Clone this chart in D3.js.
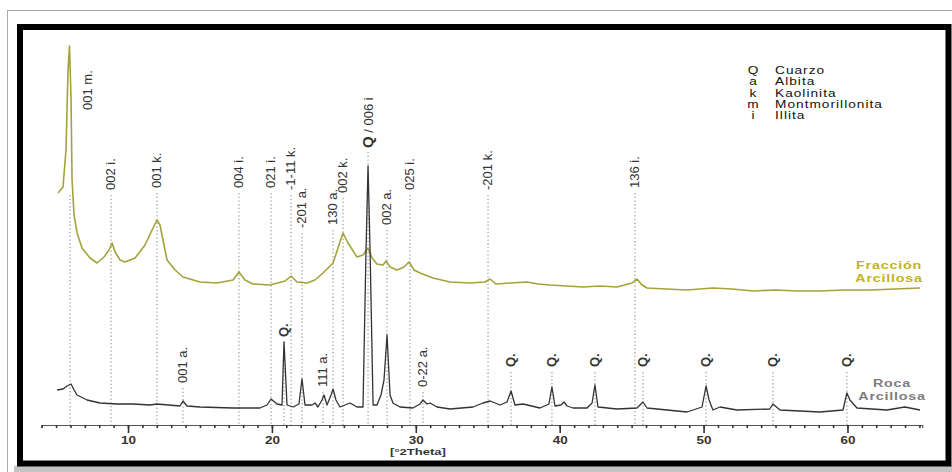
<!DOCTYPE html>
<html><head><meta charset="utf-8">
<script src="https://cdn.jsdelivr.net/npm/d3@7"></script>
<style>body{margin:0;background:#fff} svg{display:block} text{font-family:"Liberation Sans",Arial,sans-serif}</style>
</head><body><svg id="c" width="952" height="472"></svg>
<script>
// ---- DATA ----
// Fracción Arcillosa (°2θ, intensity in arbitrary units)
const fracTheta = [5.14,5.48,5.69,5.83,5.93,6.04,6.11,6.25,6.46,6.80,7.36,7.85,8.33,8.68,8.89,9.10,9.44,9.79,10.49,11.18,11.67,12.01,12.22,12.50,12.71,13.27,13.82,15.00,16.18,17.30,17.71,18.13,18.69,19.87,20.91,21.33,21.74,22.44,22.99,23.55,24.25,24.66,24.94,25.29,25.91,26.33,26.68,26.96,27.30,27.72,27.93,28.21,28.69,29.18,29.53,29.88,30.29,31.19,32.38,33.77,34.81,35.16,35.57,36.6,37.73,38.5,39.33,40.5,41.62,42.8,43.98,45.03,45.37,45.72,46.07,47.4,48.85,50.65,52.0,53.43,55.0,56.5,58.09,59.8,61.56,63.3,65.04];
const fracI = [233,239,276,356,380,326,246,211,193,178,168,163,169,176,183,174,166,164,168,181,196,206,201,181,166,156,149,144,143,146,154,146,142,141,145,150,144,143,146,153,163,181,193,183,169,171,178,168,162,161,165,159,156,159,164,156,153,148,144,143,144,147,142,143,144,142,141,140,139,140,139,143,147,141,138,137,136,138,137,135,136,135,135,136,136,137,138];
// Roca Arcillosa
const rocaTheta = [5.07,5.48,5.76,6.04,6.25,6.46,7.15,8.05,9.24,10.35,11.53,12.01,13.61,13.82,14.10,15.00,17.30,19.17,19.66,19.94,20.35,20.70,20.84,21.05,21.47,21.88,22.09,22.30,22.79,23.00,23.20,23.48,23.62,23.83,24.11,24.25,24.45,24.73,25.43,25.91,26.33,26.54,26.68,26.82,27.03,27.30,27.58,27.79,28.00,28.21,28.41,28.90,29.80,30.29,30.50,30.78,30.99,31.47,32.38,33.98,34.67,35.16,35.85,36.34,36.62,36.89,37.45,38.63,39.25,39.46,39.67,40.09,40.30,40.51,40.93,41.90,42.25,42.45,42.66,43.98,45.37,45.79,46.07,48.85,49.89,50.17,50.38,50.65,51.14,52.32,54.60,54.82,55.31,58.09,59.69,59.96,60.17,60.66,62.74,63.99,65.04];
const rocaI = [36,37,40,42,36,31,26,23,22,22,21,22,20,25,20,19,18,18,21,27,22,21,84,21,19,22,47,21,21,23,19,26,31,21,31,37,26,19,23,19,19,176,260,176,21,21,31,46,91,31,23,19,18,22,26,22,23,19,17,19,23,25,21,24,35,21,22,18,22,39,20,21,24,20,18,18,23,41,19,17,18,24,18,14,19,40,26,16,19,16,17,22,16,14,16,33,26,18,16,19,16];
// x axis
const xDomain = [4, 65.2];
const minorTicks = d3.range(4, 66, 1);
const majorTicks = [10, 20, 30, 40, 50, 60];
// peak labels: text, 2θ, intensity level of text foot
const clayLabels = [
  {t:"002 i.", th:8.82, lv:236},
  {t:"001 k.", th:12.01, lv:238},
  {t:"004 i.", th:17.71, lv:238},
  {t:"021 i.", th:19.94, lv:238},
  {t:"-1-11 k.", th:21.33, lv:236},
  {t:"-201 a.", th:22.09, lv:198},
  {t:"130 a.", th:24.25, lv:201},
  {t:"002 k.", th:24.94, lv:233},
  {t:"002 a.", th:28.00, lv:201},
  {t:"025 i.", th:29.60, lv:236},
  {t:"-201 k.", th:35.02, lv:236},
  {t:"136 i.", th:45.23, lv:238}
];
const rockLabels = [
  {t:"001 a.", th:13.82, lv:43},
  {t:"111 a.", th:23.55, lv:39},
  {t:"0-22 a.", th:30.50, lv:39}
];
const quartzTheta = [36.62, 39.46, 42.45, 45.79, 50.17, 54.82, 59.96];
const legendCodes = ["Q", "a", "k", "m", "i"];
const legendNames = ["Cuarzo", "Albita", "Kaolinita", "Montmorillonita", "Illita"];

// ---- DRAW ----
const svg = d3.select("#c");
const x = d3.scaleLinear().domain(xDomain).range([41.7, 922.3]);
const y = d3.scaleLinear().domain([0, 380]).range([426, 46]);

// frames
svg.append("rect").attr("x",7.5).attr("y",10.5).attr("width",980).attr("height",500)
  .attr("fill","none").attr("stroke","#aaa").attr("stroke-width",1);
svg.append("rect").attr("x",14).attr("y",466).attr("width",940).attr("height",8).attr("fill","#c4c4c4");
svg.append("rect").attr("x",20).attr("y",27).attr("width",928.5).attr("height",436.5)
  .attr("fill","#fff").attr("stroke","#000").attr("stroke-width",6);

const dotted = svg.append("g").attr("stroke","#9a9a9a").attr("stroke-width",1.2)
  .attr("stroke-dasharray","1.3,2.4").attr("fill","none");
const labG = svg.append("g").attr("fill","#333").style("font-size","13px");

function vlabel(txt, th, lv, opts={}) {
  const px = x(opts.tth ?? th), py = y(lv);
  const tx = labG.append("text").attr("transform",`translate(${px+4},${py}) rotate(-90)`);
  if (opts.bold) tx.style("font-weight","bold");
  tx.text(txt);
  const top = opts.ln !== undefined ? y(opts.ln) : py + 5;
  dotted.append("line").attr("x1",x(th)).attr("x2",x(th)).attr("y1",top).attr("y2",426);
}

vlabel("001 m.", 5.97, 316, {tth:7.25, ln:231});
clayLabels.forEach(d => vlabel(d.t, d.th, d.lv));
// Q / 006 i
{
  const th = 26.68, py = y(278);
  const tx = labG.append("text").attr("transform",`translate(${x(th)+5},${py}) rotate(-90)`);
  tx.append("tspan").style("font-weight","bold").style("font-size","15px").text("Q");
  tx.append("tspan").text(" / 006 i");
  dotted.append("line").attr("x1",x(th)).attr("x2",x(th)).attr("y1",py+4).attr("y2",426);
}
rockLabels.forEach(d => vlabel(d.t, d.th, d.lv));
vlabel("Q.", 20.84, 89, {bold:true});
quartzTheta.forEach(th => vlabel("Q.", th, 59, {bold:true}));

// curves
const line = d3.line().x(d => x(d[0])).y(d => y(d[1]));
svg.append("path").datum(fracTheta.map((t,i)=>[t,fracI[i]])).attr("d",line)
  .attr("fill","none").attr("stroke","#a4a23a").attr("stroke-width",1.6).attr("stroke-linejoin","round");
svg.append("path").datum(rocaTheta.map((t,i)=>[t,rocaI[i]])).attr("d",line)
  .attr("fill","none").attr("stroke","#333").attr("stroke-width",1.3).attr("stroke-linejoin","round");

// axis
const ax = svg.append("g").attr("transform","translate(0,425)");
ax.call(d3.axisBottom(x).tickValues(minorTicks).tickSize(3).tickFormat(""));
ax.append("g").call(d3.axisBottom(x).tickValues(majorTicks).tickSize(8).tickPadding(4));
ax.selectAll(".domain").attr("stroke","#555").attr("stroke-width",1.2);
ax.selectAll("line").attr("stroke","#333").attr("stroke-width",1.6);
ax.selectAll("g g .domain").remove();
ax.selectAll("text").attr("fill","#333").style("font-size","10px").style("font-weight","bold")
  .style("font-family","'Liberation Sans',Arial,sans-serif").attr("transform","scale(1.35,1)");
svg.append("text").attr("transform","translate(418,455) scale(1.45,1)").attr("text-anchor","middle")
  .style("font-size","9px").style("font-weight","bold").attr("fill","#333").text("[°2Theta]");

// legend
const lg = svg.append("g").style("font-size","10.5px").attr("fill","#111");
legendCodes.forEach((c,i) => {
  lg.append("text").attr("transform",`translate(753,${74+i*11.3}) scale(1.3,1)`).attr("text-anchor","middle").text(c);
  lg.append("text").attr("transform",`translate(775,${74+i*11.3}) scale(1.3,1)`).style("letter-spacing","0.8px").text(legendNames[i]);
});

// series names
function sname(lines, cx, by, col) {
  lines.forEach((s,i) => svg.append("text").attr("transform",`translate(${cx},${by+i*13}) scale(1.3,1)`)
    .attr("text-anchor","middle").style("font-size","11px").style("font-weight","bold")
    .style("letter-spacing","0.6px").attr("fill",col).text(s));
}
sname(["Fracción","Arcillosa"], 889, 269, "#c3b31c");
sname(["Roca","Arcillosa"], 892, 387, "#7d7d7d");
</script></body></html>
